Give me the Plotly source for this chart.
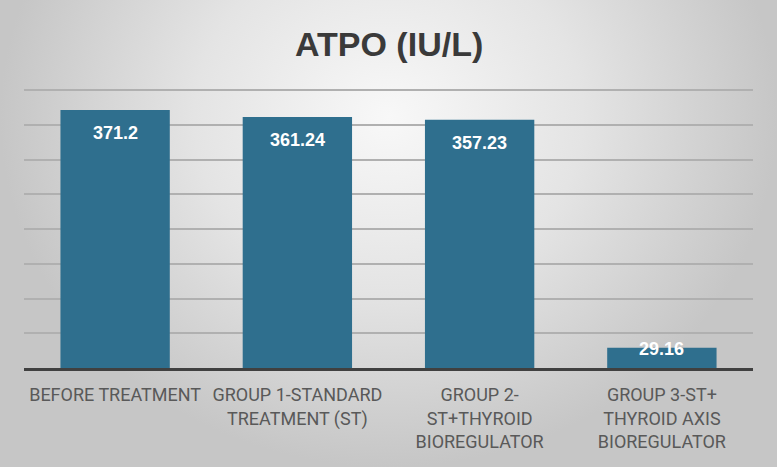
import plotly.graph_objects as go

categories = [
    "BEFORE TREATMENT",
    "GROUP 1-STANDARD<br>TREATMENT (ST)",
    "GROUP 2-<br>ST+THYROID<br>BIOREGULATOR",
    "GROUP 3-ST+<br>THYROID AXIS<br>BIOREGULATOR",
]
values = [371.2, 361.24, 357.23, 29.16]
value_labels = ["371.2", "361.24", "357.23", "29.16"]
grid_values = [50, 100, 150, 200, 250, 300, 350, 400]
title_text = "ATPO (IU/L)"

BAR_COLOR = "#2f6f8e"

fig = go.Figure()

# background radial gradient (on full-paper axes, drawn first)
fig.add_trace(go.Scatter(
    x=[0, 1, 1, 0, 0], y=[0, 0, 1.5, 1.5, 0],
    xaxis="x", yaxis="y",
    mode="lines", line=dict(width=0), fill="toself",
    fillgradient=dict(type="radial",
                      colorscale=[[0, "#f8f8f8"], [0.5, "#e4e4e4"], [1, "#c6c6c6"]]),
    hoverinfo="skip", showlegend=False,
))

fig.add_trace(go.Bar(
    x=categories, y=values, xaxis="x2", yaxis="y2",
    marker=dict(color=BAR_COLOR, line=dict(width=0)),
    hoverinfo="skip", showlegend=False,
))

annotations = []
for c, v, t in zip(categories, values, value_labels):
    annotations.append(dict(
        x=c, y=v, xref="x2", yref="y2", text="<b>" + t + "</b>", showarrow=False,
        yanchor="top", yshift=-11 if v > 100 else 11,
        font=dict(family="Liberation Sans, Arial, sans-serif", size=18, color="white"),
    ))
annotations.append(dict(
    x=0.5, y=0.905, xref="paper", yref="paper", text="<b>" + title_text + "</b>",
    showarrow=False, xanchor="center", yanchor="middle",
    font=dict(family="Liberation Sans, Arial, sans-serif", size=34, color="#3a3a3a"),
))

H = 467
W = 777
Y_TOP = 410
PX_PER_UNIT = (368 - 90) / 400
fig.update_layout(
    width=W, height=H,
    margin=dict(l=0, r=0, t=0, b=0),
    paper_bgcolor="#d8d8d8",
    plot_bgcolor="rgba(0,0,0,0)",
    bargap=0.4,
    annotations=annotations,
    xaxis=dict(domain=[0, 1], range=[0, 1], visible=False, fixedrange=True),
    yaxis=dict(domain=[0, 1], range=[0, 1], visible=False, fixedrange=True),
    xaxis2=dict(
        domain=[24 / W, 753 / W], anchor="y2",
        showline=True, linecolor="#404040", linewidth=2.5,
        showgrid=False, ticks="", ticklen=0, ticklabelstandoff=9,
        tickfont=dict(family="Roboto, Liberation Sans, Arial, sans-serif", size=18, color="#595959"),
    ),
    yaxis2=dict(
        domain=[1 - 368 / H, 1 - (368 - PX_PER_UNIT * Y_TOP) / H], anchor="x2",
        range=[0, Y_TOP], tickvals=grid_values,
        showticklabels=False,
        showgrid=True, gridcolor="#b0b0b0", gridwidth=1.5,
        zeroline=False, showline=False,
    ),
)

fig.write_html("out.html", config={"displayModeBar": False},
               post_script="document.body.style.margin='0';document.body.style.overflow='hidden';")
